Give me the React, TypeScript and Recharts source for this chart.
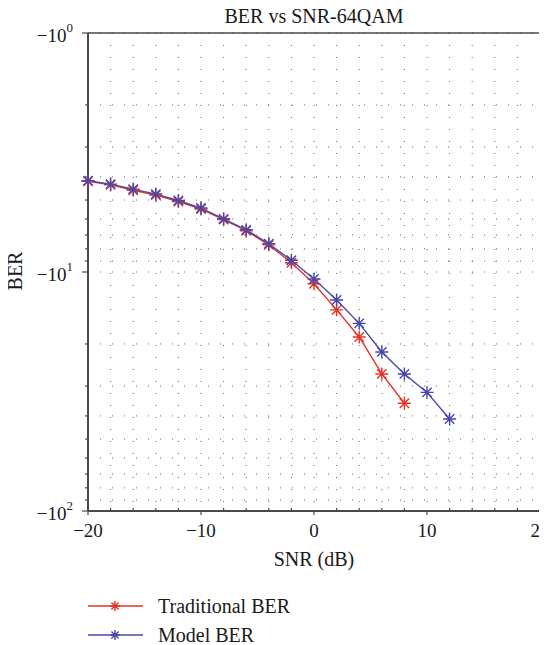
import { CartesianGrid, Line, LineChart, XAxis, YAxis } from "recharts"

const snr = [-20, -18, -16, -14, -12, -10, -8, -6, -4, -2, 0, 2, 4, 6, 8, 10, 12]

// magnitudes, the axis shows them as negative decades
const traditionalBer = [4.17, 4.32, 4.55, 4.77, 5.07, 5.45, 6.04, 6.72, 7.7, 9.15, 11.2, 14.4, 18.7, 26.7, 35.4]
const modelBer = [4.15, 4.29, 4.5, 4.72, 5.02, 5.4, 5.99, 6.66, 7.62, 8.93, 10.7, 13.1, 16.4, 21.6, 26.7, 31.9, 41.2]

const xTicks = [-20, -18, -16, -14, -12, -10, -8, -6, -4, -2, 0, 2, 4, 6, 8, 10, 12, 14, 16, 18, 20]
const xLabels = [-20, -10, 0, 10, 20]
const yTicks = [1, 2, 3, 4, 5, 6, 7, 8, 9, 10, 20, 30, 40, 50, 60, 70, 80, 90, 100]
const yLabels = [1, 10, 100]

const seriesNames = ["Traditional BER", "Model BER"]

const data = snr.map((s, i) => ({
  snr: s,
  traditional: traditionalBer[i],
  model: modelBer[i],
}))

const RED = "#e3342a"
const BLUE = "#4848a8"
const AXIS = "#4a4a4a"
const FONT = "'Liberation Serif', 'DejaVu Serif', serif"

const minus = (v: number) => (v < 0 ? "\u2212" + Math.abs(v) : String(v))

function XTick(props: any) {
  const { x, y, payload } = props
  const major = xLabels.includes(payload.value)
  return (
    <g>
      <line x1={x} x2={x} y1={major ? y : y - 3} y2={major ? y + 4 : y} stroke={AXIS} strokeWidth={1.2} />
      {major && (
        <text x={x} y={y + 26} textAnchor="middle" fontSize={19} fontFamily={FONT} fill="#1a1a1a">
          {minus(payload.value)}
        </text>
      )}
    </g>
  )
}

function YTick(props: any) {
  const { x, y, payload } = props
  const major = yLabels.includes(payload.value)
  const exp = Math.round(Math.log10(payload.value))
  return (
    <g>
      <line x1={major ? x - 6 : x - 3} x2={x} y1={y} y2={y} stroke={AXIS} strokeWidth={1.2} />
      {major && (
        <text x={x - 15} y={y + 9} textAnchor="end" fontSize={19} fontFamily={FONT} fill="#1a1a1a">
          <tspan>{"\u221210"}</tspan>
          <tspan dy={-10} fontSize={13}>{exp}</tspan>
        </text>
      )}
    </g>
  )
}

function Star({ cx, cy, color, r = 6.5 }: { cx: number; cy: number; color: string; r?: number }) {
  const d = r * 0.72
  return (
    <path
      d={`M${cx - r},${cy}H${cx + r}M${cx},${cy - r}V${cy + r}M${cx - d},${cy - d}L${cx + d},${cy + d}M${cx - d},${cy + d}L${cx + d},${cy - d}`}
      stroke={color}
      strokeWidth={1.4}
      fill="none"
    />
  )
}

const starDot = (color: string) => (props: any) => {
  const { cx, cy, index } = props
  if (cx == null || cy == null || Number.isNaN(cy)) return <g key={index} />
  return <Star key={index} cx={cx} cy={cy} color={color} />
}

function LegendRow({ color, label, y }: { color: string; label: string; y: number }) {
  return (
    <g>
      <line x1={88} x2={143} y1={y} y2={y} stroke={color} strokeWidth={1.3} />
      <Star cx={115} cy={y} color={color} r={5} />
      <text x={158} y={y + 7} fontSize={20} fontFamily={FONT} fill="#1a1a1a">
        {label}
      </text>
    </g>
  )
}

export default function App() {
  return (
    <div style={{ margin: "-8px 0 0 -8px", width: 547, height: 645, background: "#fff" }}>
      <LineChart width={547} height={645} data={data} margin={{ top: 32, right: 6, bottom: 104, left: 0 }}>
        <CartesianGrid stroke="#666" strokeDasharray="1 11" strokeWidth={1} />
        <XAxis
          dataKey="snr"
          type="number"
          domain={[-20, 20]}
          ticks={xTicks}
          interval={0}
          tickSize={0}
          tickMargin={0}
          height={30}
          tick={<XTick />}
          tickLine={false}
          axisLine={{ stroke: AXIS, strokeWidth: 2 }}
        />
        <XAxis xAxisId="top" orientation="top" type="number" domain={[-20, 20]} height={1} tick={false} tickLine={false} axisLine={{ stroke: AXIS, strokeWidth: 1.5 }} />
        <YAxis
          type="number"
          scale="log"
          domain={[1, 100]}
          reversed
          ticks={yTicks}
          interval={0}
          tickSize={0}
          tickMargin={0}
          width={88}
          tick={<YTick />}
          tickLine={false}
          allowDataOverflow
          axisLine={{ stroke: AXIS, strokeWidth: 2 }}
        />
        <YAxis yAxisId="right" orientation="right" type="number" domain={[1, 100]} width={1} tick={false} tickLine={false} axisLine={{ stroke: AXIS, strokeWidth: 2 }} />
        <Line type="linear" dataKey="traditional" name={seriesNames[0]} stroke={RED} strokeWidth={1.4} dot={starDot(RED)} isAnimationActive={false} connectNulls={false} />
        <Line type="linear" dataKey="model" name={seriesNames[1]} stroke={BLUE} strokeWidth={1.4} dot={starDot(BLUE)} isAnimationActive={false} />
        <text x={314} y={23} textAnchor="middle" fontSize={20} fontFamily={FONT} fill="#1a1a1a">
          BER vs SNR-64QAM
        </text>
        <text x={314} y={566} textAnchor="middle" fontSize={20} fontFamily={FONT} fill="#1a1a1a">
          SNR (dB)
        </text>
        <text x={22} y={271} textAnchor="middle" fontSize={20} fontFamily={FONT} fill="#1a1a1a" transform="rotate(-90 22 271)">
          BER
        </text>
        <LegendRow color={RED} label={seriesNames[0]} y={606} />
        <LegendRow color={BLUE} label={seriesNames[1]} y={635} />
      </LineChart>
    </div>
  )
}
